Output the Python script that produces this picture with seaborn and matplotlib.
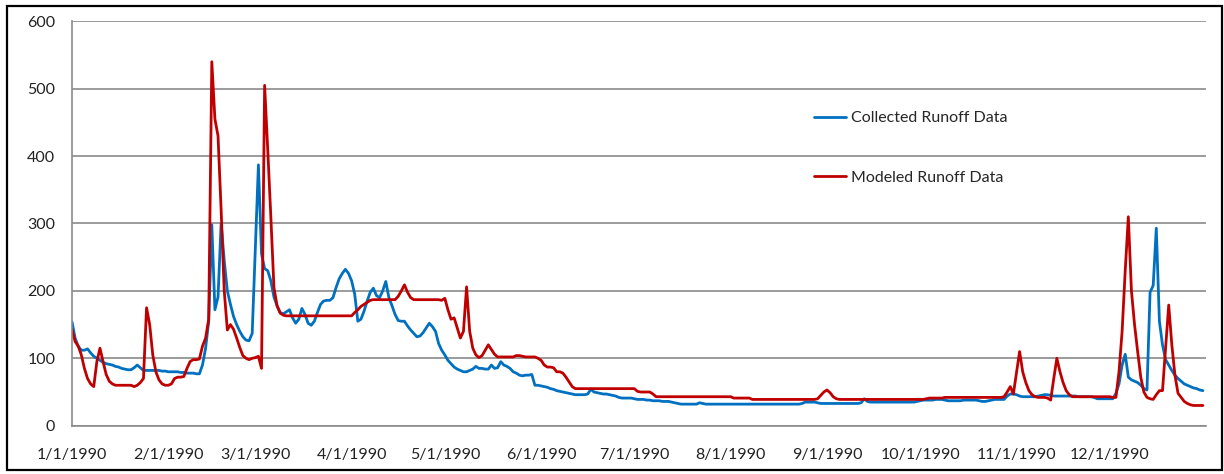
import matplotlib
matplotlib.use("Agg")
import matplotlib.pyplot as plt
import pandas as pd
import seaborn as sns
from matplotlib.patches import Rectangle

# daily runoff, one list per month
collected_jan = [154, 130, 118, 112, 112, 114, 108, 103, 100, 97,
                 94, 92, 91, 90, 88, 87, 85, 84, 83, 83,
                 86, 90, 86, 82, 82, 82, 82, 82, 82, 81, 81]
collected_feb = [80, 80, 80, 80, 79, 79, 78, 78, 78, 77,
                 77, 90, 115, 155, 298, 172, 191, 300, 245, 200,
                 180, 162, 150, 140, 132, 127, 126, 137]
collected_mar = [262, 387, 255, 233, 230, 215, 191, 178, 168, 166,
                 169, 172, 160, 152, 158, 174, 165, 152, 149, 155,
                 168, 180, 185, 186, 186, 190, 205, 218, 226, 232, 226]
collected_apr = [215, 195, 155, 158, 170, 185, 198, 204, 193, 190,
                 200, 214, 190, 178, 165, 156, 155, 155, 148, 142,
                 137, 132, 133, 138, 145, 152, 147, 140, 122, 112]
collected_may = [105, 97, 92, 87, 84, 82, 80, 80, 82, 84,
                 88, 85, 85, 84, 84, 90, 85, 86, 95, 90,
                 88, 85, 80, 78, 75, 74, 75, 75, 76, 60, 60]
collected_jun = [59, 58, 57, 55, 54, 52, 51, 50, 49, 48,
                 47, 46, 46, 46, 46, 47, 54, 50, 49, 48,
                 47, 47, 46, 45, 44, 42, 41, 41, 41, 41]
collected_jul = [40, 39, 39, 39, 38, 38, 37, 37, 37, 36,
                 36, 36, 35, 34, 33, 32, 32, 32, 32, 32,
                 32, 34, 33, 32, 32, 32, 32, 32, 32, 32, 32]
collected_aug = [32, 32, 32, 32, 32, 32, 32, 32, 32, 32,
                 32, 32, 32, 32, 32, 32, 32, 32, 32, 32,
                 32, 32, 32, 33, 35, 35, 35, 35, 34, 33, 33]
collected_sep = [33, 33, 33, 33, 33, 33, 33, 33, 33, 33,
                 33, 34, 40, 36, 35, 35, 35, 35, 35, 35,
                 35, 35, 35, 35, 35, 35, 35, 35, 35, 36]
collected_oct = [37, 38, 38, 38, 38, 39, 39, 39, 38, 37,
                 37, 37, 37, 37, 38, 38, 38, 38, 38, 37,
                 36, 36, 37, 38, 39, 39, 39, 39, 44, 47, 47]
collected_nov = [46, 44, 43, 43, 43, 43, 43, 44, 45, 46,
                 46, 45, 44, 44, 44, 44, 44, 44, 44, 44,
                 43, 43, 43, 43, 43, 42, 40, 40, 40, 40]
collected_dec = [40, 40, 48, 62, 90, 106, 72, 68, 66, 64,
                 60, 55, 53, 198, 208, 293, 155, 120, 98, 90,
                 82, 75, 70, 66, 62, 60, 58, 56, 55, 53, 52]

modeled_jan = [143, 125, 118, 105, 85, 70, 62, 58, 95, 115,
               95, 76, 66, 62, 60, 60, 60, 60, 60, 60,
               58, 60, 64, 70, 175, 150, 105, 80, 68, 62, 60]
modeled_feb = [60, 62, 70, 72, 72, 73, 85, 95, 98, 98,
               99, 118, 130, 158, 540, 455, 430, 320, 200, 142,
               150, 143, 130, 116, 104, 100, 98, 100]
modeled_mar = [101, 103, 85, 505, 410, 310, 205, 178, 167, 164,
               163, 163, 163, 163, 163, 163, 163, 163, 163, 163,
               163, 163, 163, 163, 163, 163, 163, 163, 163, 163, 163]
modeled_apr = [163, 168, 172, 177, 180, 183, 186, 187, 187, 187,
               187, 187, 187, 187, 187, 192, 200, 209, 198, 190,
               187, 187, 187, 187, 187, 187, 187, 187, 187, 186]
modeled_may = [189, 172, 158, 160, 145, 130, 140, 206, 140, 115,
               105, 101, 104, 112, 120, 113, 106, 102, 102, 102,
               102, 102, 102, 104, 104, 103, 102, 102, 102, 102, 100]
modeled_jun = [97, 90, 87, 87, 86, 80, 80, 78, 72, 65,
               58, 55, 55, 55, 55, 55, 55, 55, 55, 55,
               55, 55, 55, 55, 55, 55, 55, 55, 55, 55]
modeled_jul = [55, 51, 50, 50, 50, 50, 47, 43, 43, 43,
               43, 43, 43, 43, 43, 43, 43, 43, 43, 43,
               43, 43, 43, 43, 43, 43, 43, 43, 43, 43, 43]
modeled_aug = [43, 41, 41, 41, 41, 41, 41, 39, 39, 39,
               39, 39, 39, 39, 39, 39, 39, 39, 39, 39,
               39, 39, 39, 39, 39, 39, 39, 39, 40, 45, 50]
modeled_sep = [53, 49, 43, 40, 39, 39, 39, 39, 39, 39,
               39, 39, 39, 39, 39, 39, 39, 39, 39, 39,
               39, 39, 39, 39, 39, 39, 39, 39, 39, 39]
modeled_oct = [39, 39, 40, 41, 41, 41, 41, 41, 42, 42,
               42, 42, 42, 42, 42, 42, 42, 42, 42, 42,
               42, 42, 42, 42, 42, 42, 42, 43, 50, 58, 47]
modeled_nov = [78, 110, 80, 64, 52, 46, 43, 42, 42, 42,
               41, 38, 70, 100, 80, 64, 52, 46, 43, 43,
               43, 43, 43, 43, 43, 43, 43, 43, 43, 43]
modeled_dec = [43, 42, 42, 80, 140, 230, 310, 200, 150, 110,
               72, 50, 42, 40, 39, 46, 52, 52, 115, 179,
               120, 75, 48, 42, 36, 33, 31, 30, 30, 30, 30]

collected = (collected_jan + collected_feb + collected_mar + collected_apr
             + collected_may + collected_jun + collected_jul + collected_aug
             + collected_sep + collected_oct + collected_nov + collected_dec)
modeled = (modeled_jan + modeled_feb + modeled_mar + modeled_apr
           + modeled_may + modeled_jun + modeled_jul + modeled_aug
           + modeled_sep + modeled_oct + modeled_nov + modeled_dec)

series_names = ["Collected Runoff Data", "Modeled Runoff Data"]
month_labels = ["1/1/1990", "2/1/1990", "3/1/1990", "4/1/1990", "5/1/1990",
                "6/1/1990", "7/1/1990", "8/1/1990", "9/1/1990", "10/1/1990",
                "11/1/1990", "12/1/1990", ""]

dates = pd.date_range("1990-01-01", periods=len(collected), freq="D")
df = pd.DataFrame({
    "date": list(dates) + list(dates),
    "runoff": collected + modeled,
    "series": [series_names[0]] * len(collected) + [series_names[1]] * len(modeled),
})

sns.set_style("white")
plt.rcParams["font.family"] = ["Lato", "DejaVu Sans"]

W, H = 1224, 474
fig = plt.figure(figsize=(W / 100, H / 100), dpi=100)
ax = fig.add_axes([72 / W, 1 - 425.7 / H, (1206 - 72) / W, (425.7 - 21.3) / H])

sns.lineplot(data=df, x="date", y="runoff", hue="series",
             palette=["#0070C0", "#C00000"], linewidth=2.0, ax=ax)

grid_c = "#8a8a8a"
ax.set_ylim(0, 600)
ax.set_yticks(range(0, 601, 100))
ax.set_xlim(pd.Timestamp("1990-01-01"), pd.Timestamp("1991-01-01"))
ax.set_xticks(pd.date_range("1990-01-01", "1991-01-01", freq="MS"))
ax.set_xticklabels(month_labels)
ax.yaxis.grid(True, color=grid_c, linewidth=1.2)
ax.set_axisbelow(True)
for s in ["top", "right"]:
    ax.spines[s].set_visible(False)
for s in ["left", "bottom"]:
    ax.spines[s].set_color(grid_c)
    ax.spines[s].set_linewidth(1.2)
ax.tick_params(axis="x", direction="out", length=5, width=1.2, color=grid_c,
               pad=11, labelsize=11.5, labelcolor="#222222")
ax.tick_params(axis="y", direction="out", length=5, width=1.2, color=grid_c,
               pad=7, labelsize=11.5, labelcolor="#222222")
ax.set_xlabel("")
ax.set_ylabel("")

ax.legend(loc="upper left", bbox_to_anchor=(814 / W, 1 - 111 / H),
          bbox_transform=fig.transFigure, frameon=False, fontsize=11.5,
          handlelength=2.0, handletextpad=0.3, labelspacing=2.85,
          borderpad=0, borderaxespad=0)

fig.patches.append(Rectangle((7 / W, 4 / H), (1222 - 7) / W, (468 - 4) / H,
                             transform=fig.transFigure, fill=False,
                             edgecolor="black", linewidth=1.6))

fig.savefig("out.png", dpi=100)
